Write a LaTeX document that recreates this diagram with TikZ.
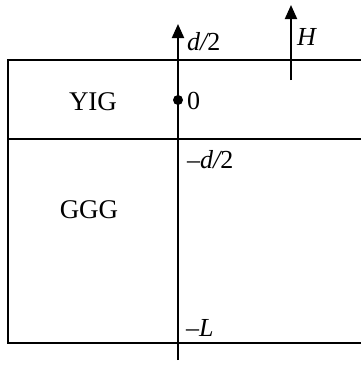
\documentclass[tikz,border=0pt]{standalone}
\usepackage{fontspec}
\setmainfont{Liberation Serif}
\usetikzlibrary{arrows.meta}
\begin{document}
\begin{tikzpicture}[x=1pt,y=-1pt,
  edge/.style={line width=2pt},
  axis/.style={line width=2pt,-{Triangle[length=14pt,width=12pt]}},
  lbl/.style={font=\fontsize{26}{30}\selectfont,inner sep=0pt},
  mat/.style={font=\fontsize{27}{31}\selectfont,inner sep=0pt}]
\useasboundingbox (0,0) rectangle (361,365);
\coordinate (tl) at (8,60);
\coordinate (tr) at (361,60);
\coordinate (ml) at (8,139);
\coordinate (mr) at (361,139);
\coordinate (bl) at (8,343);
\coordinate (br) at (361,343);
\draw[edge] (tr) -- (tl) -- (bl) -- (br);
\draw[edge] (ml) -- (mr);
\coordinate (zb) at (178,360);
\coordinate (zt) at (178,24);
\draw[axis] (zb) -- (zt);
\coordinate (hb) at (291,80);
\coordinate (ht) at (291,5);
\draw[axis] (hb) -- (ht);
\node[circle,fill,inner sep=0pt,minimum size=10pt] (dot) at (178,100) {};
\node[mat] (yig) at (93,102) {YIG};
\node[mat] (ggg) at (89,210) {GGG};
\node[lbl,anchor=west] (dtop) at (187,42) {\itshape d/\upshape 2};
\node[lbl,anchor=west] (H) at (297,37) {\itshape H};
\node[lbl,anchor=west] (zero) at (187,101) {0};
\node[lbl,anchor=west] (dbot) at (187,160) {\textendash\itshape d/\upshape 2};
\node[lbl,anchor=west] (L) at (186,328) {\textendash\itshape L};
\end{tikzpicture}
\end{document}
